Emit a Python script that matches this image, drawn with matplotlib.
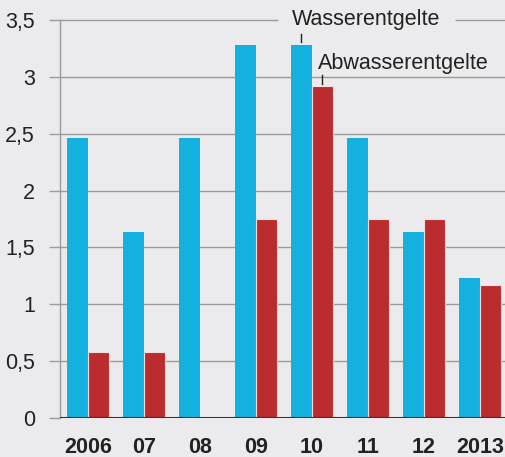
import matplotlib.pyplot as plt
import numpy as np

# Data
years = ['2006', '07', '08', '09', '10', '11', '12', '2013']
wasser = [2.46, 1.64, 2.46, 3.28, 3.28, 2.46, 1.64, 1.23]
abwasser = [0.58, 0.58, 0.0, 1.75, 2.92, 1.75, 1.75, 1.17]
y_ticks = [0, 0.5, 1, 1.5, 2, 2.5, 3, 3.5]
y_tick_labels = ['0', '0,5', '1', '1,5', '2', '2,5', '3', '3,5']

BG = '#ebebed'
BLUE = '#14b0e0'
RED = '#bb2c2e'
GRID = '#9a9a9a'
BAR_W = 0.375
FS = 15.5

plt.rcParams['font.family'] = ['Liberation Sans', 'DejaVu Sans']

fig = plt.figure(figsize=(5.05, 4.57), dpi=100, facecolor=BG)
ax = fig.add_axes([60 / 505, 1 - 418 / 457, 1 - 60 / 505, (418 - 20) / 457])
ax.set_facecolor(BG)

x = np.arange(len(years))
ax.bar(x - BAR_W / 2, wasser, width=BAR_W, color=BLUE, zorder=2)
ab = np.array(abwasser)
mask = ab > 0
ax.bar(x[mask] + BAR_W / 2, ab[mask], width=BAR_W, color=RED,
       edgecolor='#f3dede', linewidth=0.8, zorder=2)

# gridlines (top one has a gap for the label)
for yv in y_ticks[1:-1]:
    ax.axhline(yv, color=GRID, lw=1.0, zorder=1)
ax.hlines(3.5, -0.5, 3.39, color=GRID, lw=1.0, zorder=1, clip_on=False)
ax.hlines(3.5, 6.55, 7.5, color=GRID, lw=1.0, zorder=1, clip_on=False)
ax.axhline(0, color='#333333', lw=1.5, zorder=3)

ax.set_xlim(-0.5, 7.45)
ax.set_ylim(0, 3.5)

for s in ['top', 'right', 'bottom']:
    ax.spines[s].set_visible(False)
ax.spines['left'].set_color(GRID)
ax.spines['left'].set_linewidth(1.0)

ax.set_yticks(y_ticks)
ax.set_yticklabels(y_tick_labels, fontsize=FS, color='#222222')
ax.tick_params(axis='y', length=8, width=1.0, color=GRID, pad=10)
ax.set_xticks(x)
ax.set_xticklabels(years, fontsize=FS, fontweight='bold', color='#222222')
ax.tick_params(axis='x', length=0, pad=14)

# series labels with leader lines
i10 = years.index('10')
ax.text(4.96, 3.5, 'Wasserentgelte', fontsize=FS, ha='center', va='center',
        color='#222222', clip_on=False)
ax.plot([i10 - BAR_W / 2] * 2, [wasser[i10] + 0.03, wasser[i10] + 0.1],
        color='#222222', lw=1.0, zorder=3)
ax.text(i10 + 0.1, 3.12, 'Abwasserentgelte', fontsize=FS, ha='left',
        va='center', color='#222222')
ax.plot([i10 + BAR_W / 2] * 2, [abwasser[i10] + 0.02, abwasser[i10] + 0.1],
        color='#222222', lw=1.0, zorder=3)

fig.savefig('out.png', dpi=100, facecolor=BG)
